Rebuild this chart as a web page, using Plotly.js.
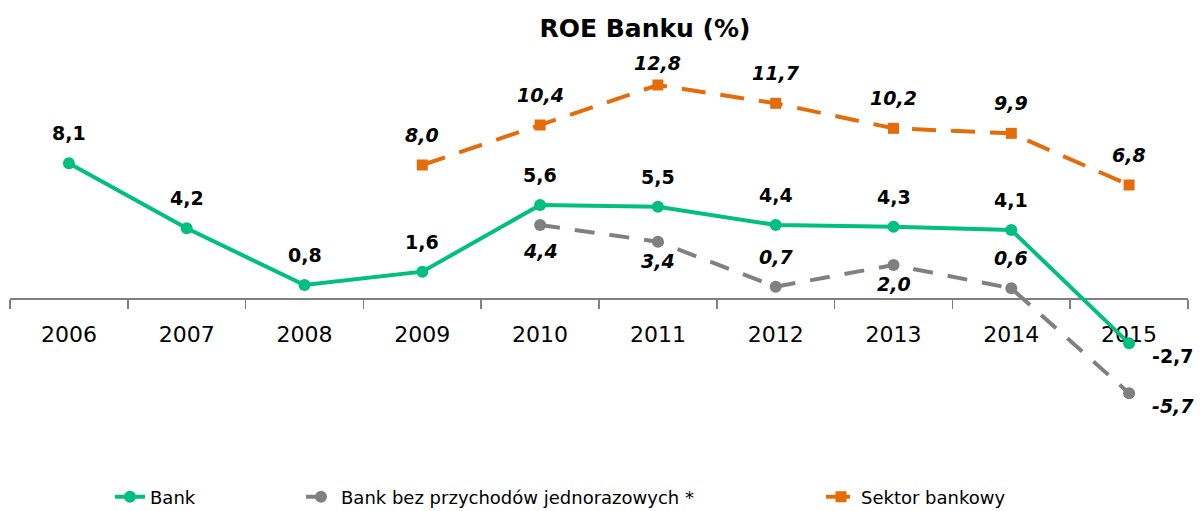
<!DOCTYPE html>
<html>
<head>
<meta charset="utf-8">
<script src="https://cdn.plot.ly/plotly-3.0.1.min.js"></script>
<style>html,body{margin:0;padding:0;background:#fff}#chart{width:1201px;height:511px}</style>
</head>
<body>
<div id="chart"></div>
<script>
var years = ['2006','2007','2008','2009','2010','2011','2012','2013','2014','2015'];
var bank = [8.1, 4.2, 0.8, 1.6, 5.6, 5.5, 4.4, 4.3, 4.1, -2.7];
var bankBez = [null, null, null, null, 4.4, 3.4, 0.7, 2.0, 0.6, -5.7];
var sektor = [null, null, null, 8.0, 10.4, 12.8, 11.7, 10.2, 9.9, 6.8];
var seriesNames = ['Bank', 'Bank bez przychodów jednorazowych *', 'Sektor bankowy'];
// label placement: 't' above, 'tn' above (near), 'b' below, 'bf' below (far), 'r' right-below
var bankPos = ['t','t','t','t','t','t','t','t','t','r'];
var bankBezPos = [null,null,null,null,'bf','b','t','b','t','r'];
var sektorPos = [null,null,null,'t','t','tn','t','t','t','t'];

var GREEN = '#00BF7F', GREY = '#808080', ORANGE = '#E46C0A';
var FONT = 'DejaVu Sans, Verdana, sans-serif';

function fmt(v){ return v.toFixed(1).replace('.', ','); }

var traces = [
  {x: years, y: bank, name: seriesNames[0], type: 'scatter', mode: 'lines+markers',
   line: {color: GREEN, width: 4}, marker: {color: GREEN, size: 12, symbol: 'circle'},
   legend: 'legend', connectgaps: false, hoverinfo: 'skip'},
  {x: years, y: bankBez, name: seriesNames[1], type: 'scatter', mode: 'lines+markers',
   line: {color: GREY, width: 4, dash: '20px,15px'}, marker: {color: GREY, size: 12, symbol: 'circle'},
   legend: 'legend2', connectgaps: false, hoverinfo: 'skip'},
  {x: years, y: sektor, name: seriesNames[2], type: 'scatter', mode: 'lines+markers',
   line: {color: ORANGE, width: 4, dash: '24px,15px'}, marker: {color: ORANGE, size: 11, symbol: 'square'},
   legend: 'legend3', connectgaps: false, hoverinfo: 'skip'}
];

var annotations = [];
function addLabels(vals, pos, italic){
  for (var i = 0; i < vals.length; i++){
    if (vals[i] === null) continue;
    var p = pos[i];
    var t = fmt(vals[i]);
    t = italic ? '<b><i>' + t + '</i></b>' : '<b>' + t + '</b>';
    // category index i corresponds to years[i]
    var a = {x: i, y: vals[i], xref: 'x', yref: 'y', text: t, showarrow: false,
      font: {family: FONT, size: 19, color: '#000'}, xanchor: 'center', yanchor: 'middle'};
    if (p === 't') { a.yshift = 30; }
    else if (p === 'tn') { a.yshift = 22; }
    else if (p === 'b') { a.yshift = -19; }
    else if (p === 'bf') { a.yshift = -26; }
    else if (p === 'r') { a.xshift = 44; a.yshift = -13; }
    annotations.push(a);
  }
}
addLabels(bank, bankPos, false);
addLabels(bankBez, bankBezPos, true);
addLabels(sektor, sektorPos, true);

var legFont = {family: FONT, size: 18, color: '#000'};
var layout = {
  width: 1201, height: 511,
  margin: {l: 10, r: 13, t: 65, b: 96},
  paper_bgcolor: '#fff', plot_bgcolor: '#fff',
  title: {text: '<b>ROE Banku (%)</b>', font: {family: FONT, size: 25, color: '#000'},
          x: 645/1201, xref: 'container', xanchor: 'center', y: 1 - 28/511, yref: 'container', yanchor: 'middle'},
  xaxis: {type: 'category', range: [-0.5, 9.5], anchor: 'free', position: 1/3,
          showline: true, linecolor: '#808080', linewidth: 1.5,
          ticks: 'outside', tickson: 'boundaries', ticklen: 9, tickcolor: '#808080', tickwidth: 1.5,
          tickfont: {family: FONT, size: 22, color: '#000'}, ticklabelstandoff: 16,
          showgrid: false, zeroline: false, layer: 'below traces', fixedrange: true},
  yaxis: {range: [-7, 14], visible: false, showgrid: false, zeroline: false, fixedrange: true},
  showlegend: true,
  legend: {orientation: 'h', x: 110/1201, xref: 'container', xanchor: 'left', y: 1 - 497/511, yref: 'container', yanchor: 'middle', font: legFont, bgcolor: 'rgba(0,0,0,0)'},
  legend2: {orientation: 'h', x: 301/1201, xref: 'container', xanchor: 'left', y: 1 - 497/511, yref: 'container', yanchor: 'middle', font: legFont, bgcolor: 'rgba(0,0,0,0)'},
  legend3: {orientation: 'h', x: 821/1201, xref: 'container', xanchor: 'left', y: 1 - 497/511, yref: 'container', yanchor: 'middle', font: legFont, bgcolor: 'rgba(0,0,0,0)'},
  annotations: annotations
};

Plotly.newPlot('chart', traces, layout, {displayModeBar: false, staticPlot: true});
</script>
</body>
</html>
